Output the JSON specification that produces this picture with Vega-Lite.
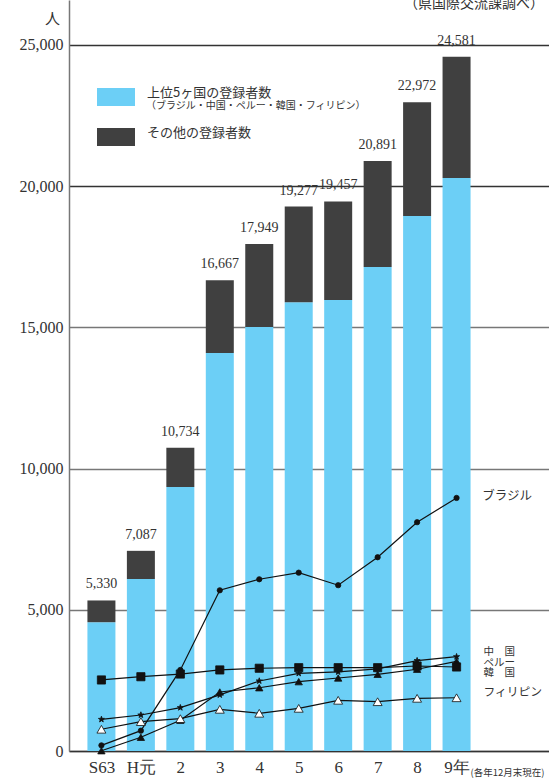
{
  "$schema": "https://vega.github.io/schema/vega-lite/v6.json",
  "width": 480,
  "height": 751,
  "autosize": {"type": "none"},
  "padding": {"left": 69, "top": 0, "right": 0, "bottom": 27},
  "background": "white",
  "config": {"view": {"stroke": null}, "font": "Noto Sans CJK JP"},
  "datasets": {
    "bars": [
      {"i": 0, "group": "上位5ヶ国の登録者数", "ord": 0, "value": 4560},
      {"i": 0, "group": "その他の登録者数", "ord": 1, "value": 770},
      {"i": 1, "group": "上位5ヶ国の登録者数", "ord": 0, "value": 6090},
      {"i": 1, "group": "その他の登録者数", "ord": 1, "value": 997},
      {"i": 2, "group": "上位5ヶ国の登録者数", "ord": 0, "value": 9350},
      {"i": 2, "group": "その他の登録者数", "ord": 1, "value": 1384},
      {"i": 3, "group": "上位5ヶ国の登録者数", "ord": 0, "value": 14090},
      {"i": 3, "group": "その他の登録者数", "ord": 1, "value": 2577},
      {"i": 4, "group": "上位5ヶ国の登録者数", "ord": 0, "value": 15010},
      {"i": 4, "group": "その他の登録者数", "ord": 1, "value": 2939},
      {"i": 5, "group": "上位5ヶ国の登録者数", "ord": 0, "value": 15890},
      {"i": 5, "group": "その他の登録者数", "ord": 1, "value": 3387},
      {"i": 6, "group": "上位5ヶ国の登録者数", "ord": 0, "value": 15965},
      {"i": 6, "group": "その他の登録者数", "ord": 1, "value": 3492},
      {"i": 7, "group": "上位5ヶ国の登録者数", "ord": 0, "value": 17135},
      {"i": 7, "group": "その他の登録者数", "ord": 1, "value": 3756},
      {"i": 8, "group": "上位5ヶ国の登録者数", "ord": 0, "value": 18940},
      {"i": 8, "group": "その他の登録者数", "ord": 1, "value": 4032},
      {"i": 9, "group": "上位5ヶ国の登録者数", "ord": 0, "value": 20285},
      {"i": 9, "group": "その他の登録者数", "ord": 1, "value": 4296}
    ],
    "totals": [
      {"i": 0, "total": 5330},
      {"i": 1, "total": 7087},
      {"i": 2, "total": 10734},
      {"i": 3, "total": 16667},
      {"i": 4, "total": 17949},
      {"i": 5, "total": 19277},
      {"i": 6, "total": 19457},
      {"i": 7, "total": 20891},
      {"i": 8, "total": 22972},
      {"i": 9, "total": 24581}
    ],
    "lines": [
      {"series": "ブラジル", "i": 0, "value": 200},
      {"series": "ブラジル", "i": 1, "value": 720},
      {"series": "ブラジル", "i": 2, "value": 2870},
      {"series": "ブラジル", "i": 3, "value": 5690},
      {"series": "ブラジル", "i": 4, "value": 6080},
      {"series": "ブラジル", "i": 5, "value": 6315},
      {"series": "ブラジル", "i": 6, "value": 5870},
      {"series": "ブラジル", "i": 7, "value": 6860},
      {"series": "ブラジル", "i": 8, "value": 8100},
      {"series": "ブラジル", "i": 9, "value": 8960},
      {"series": "中国", "i": 0, "value": 1120},
      {"series": "中国", "i": 1, "value": 1275},
      {"series": "中国", "i": 2, "value": 1535},
      {"series": "中国", "i": 3, "value": 1985},
      {"series": "中国", "i": 4, "value": 2480},
      {"series": "中国", "i": 5, "value": 2750},
      {"series": "中国", "i": 6, "value": 2800},
      {"series": "中国", "i": 7, "value": 2905},
      {"series": "中国", "i": 8, "value": 3200},
      {"series": "中国", "i": 9, "value": 3340},
      {"series": "ペルー", "i": 0, "value": 10},
      {"series": "ペルー", "i": 1, "value": 485},
      {"series": "ペルー", "i": 2, "value": 1090},
      {"series": "ペルー", "i": 3, "value": 2090},
      {"series": "ペルー", "i": 4, "value": 2240},
      {"series": "ペルー", "i": 5, "value": 2455},
      {"series": "ペルー", "i": 6, "value": 2585},
      {"series": "ペルー", "i": 7, "value": 2715},
      {"series": "ペルー", "i": 8, "value": 2895},
      {"series": "ペルー", "i": 9, "value": 3175},
      {"series": "韓国", "i": 0, "value": 2515},
      {"series": "韓国", "i": 1, "value": 2630},
      {"series": "韓国", "i": 2, "value": 2725},
      {"series": "韓国", "i": 3, "value": 2870},
      {"series": "韓国", "i": 4, "value": 2930},
      {"series": "韓国", "i": 5, "value": 2950},
      {"series": "韓国", "i": 6, "value": 2950},
      {"series": "韓国", "i": 7, "value": 2950},
      {"series": "韓国", "i": 8, "value": 3010},
      {"series": "韓国", "i": 9, "value": 2975},
      {"series": "フィリピン", "i": 0, "value": 770},
      {"series": "フィリピン", "i": 1, "value": 1040},
      {"series": "フィリピン", "i": 2, "value": 1145},
      {"series": "フィリピン", "i": 3, "value": 1475},
      {"series": "フィリピン", "i": 4, "value": 1335},
      {"series": "フィリピン", "i": 5, "value": 1510},
      {"series": "フィリピン", "i": 6, "value": 1795},
      {"series": "フィリピン", "i": 7, "value": 1745},
      {"series": "フィリピン", "i": 8, "value": 1865},
      {"series": "フィリピン", "i": 9, "value": 1885}
    ]
  },
  "layer": [
    {
      "data": {"name": "bars"},
      "mark": {"type": "bar", "width": 28},
      "encoding": {
        "x": {
          "field": "i", "type": "quantitative",
          "scale": {"domain": [-0.695, 11.216], "nice": false, "zero": false},
          "axis": {
            "values": [0, 1, 2, 3, 4, 5, 6, 7, 8, 9],
            "labelExpr": "['S63','H元','2','3','4','5','6','7','8','9年'][datum.value]",
            "grid": false, "ticks": false, "tickSize": 0,
            "labelPadding": 8, "labelFont": "Liberation Serif", "labelFontSize": 17, "labelColor": "#333",
            "domainColor": "#333", "domainWidth": 1.5,
            "title": "(各年12月末現在)", "titleX": 401, "titleY": 24, "titleAlign": "left", "titleBaseline": "alphabetic",
            "titleFontSize": 9.5, "titleFont": "Noto Sans CJK JP", "titleFontWeight": "normal", "titleColor": "#333"
          }
        },
        "y": {
          "field": "value", "type": "quantitative", "stack": "zero",
          "scale": {"domain": [0, 26590], "nice": false},
          "axis": {
            "values": [0, 5000, 10000, 15000, 20000, 25000],
            "labelExpr": "format(datum.value, ',')",
            "title": "人", "titleAngle": 0, "titleX": -17, "titleY": 18, "titleAlign": "center", "titleBaseline": "middle",
            "titleFontSize": 15, "titleFontWeight": "normal", "titleFont": "Noto Sans CJK JP", "titleColor": "#333",
            "grid": true,
            "gridColor": {"condition": {"test": "datum.value >= 20000", "value": "#333"}, "value": "#777"},
            "gridWidth": 1.3,
            "ticks": false, "tickSize": 0,
            "domainColor": "#777", "domainWidth": 1.5,
            "labelFont": "Liberation Serif", "labelFontSize": 16, "labelColor": "#333", "labelPadding": 6
          }
        },
        "color": {
          "field": "group", "type": "nominal",
          "scale": {"domain": ["上位5ヶ国の登録者数", "その他の登録者数"], "range": ["#6CCFF6", "#404040"]},
          "legend": {
            "title": null, "orient": "none", "legendX": 28, "legendY": 78,
            "symbolType": "M-1,-0.47H1V0.47H-1Z", "symbolSize": 1444, "symbolStrokeWidth": 0, "symbolOpacity": 1,
            "labelFont": "Noto Sans CJK JP", "labelFontSize": 13, "labelColor": "#333", "labelOffset": 12,
            "labelBaseline": "alphabetic",
            "rowPadding": 12, "labelLimit": 300
          }
        },
        "order": {"field": "ord", "type": "quantitative"}
      }
    },
    {
      "data": {"name": "totals"},
      "mark": {"type": "text", "baseline": "alphabetic", "dy": -12, "font": "Liberation Serif", "fontSize": 14, "color": "#333"},
      "encoding": {
        "x": {"field": "i", "type": "quantitative"},
        "y": {"field": "total", "type": "quantitative"},
        "text": {"field": "total", "type": "quantitative", "format": ","}
      }
    },
    {
      "data": {"name": "lines"},
      "mark": {"type": "line", "color": "#111", "strokeWidth": 1.2},
      "encoding": {
        "x": {"field": "i", "type": "quantitative"},
        "y": {"field": "value", "type": "quantitative"},
        "detail": {"field": "series", "type": "nominal"}
      }
    },
    {
      "data": {"name": "lines"},
      "mark": {"type": "point", "filled": true, "stroke": "#111", "strokeWidth": 0.8, "opacity": 1},
      "encoding": {
        "x": {"field": "i", "type": "quantitative"},
        "y": {"field": "value", "type": "quantitative"},
        "shape": {
          "field": "series", "type": "nominal",
          "scale": {
            "domain": ["ブラジル", "中国", "ペルー", "韓国", "フィリピン"],
            "range": ["circle", "M0,-1L0.235,-0.324L0.951,-0.309L0.38,0.124L0.588,0.809L0,0.4L-0.588,0.809L-0.38,0.124L-0.951,-0.309L-0.235,-0.324Z", "triangle-up", "square", "triangle-up"]
          },
          "legend": null
        },
        "fill": {
          "field": "series", "type": "nominal",
          "scale": {"domain": ["ブラジル", "中国", "ペルー", "韓国", "フィリピン"], "range": ["#111", "#111", "#111", "#111", "#ffffff"]},
          "legend": null
        },
        "size": {
          "field": "series", "type": "nominal",
          "scale": {"domain": ["ブラジル", "中国", "ペルー", "韓国", "フィリピン"], "range": [28, 80, 36, 64, 36]},
          "legend": null
        }
      }
    },
    {
      "data": {"values": [{}]},
      "mark": {"type": "text", "align": "right", "baseline": "alphabetic", "fontSize": 14, "font": "Noto Sans CJK JP", "color": "#333", "text": "（県国際交流課調べ）"},
      "encoding": {"x": {"datum": 11.216}, "y": {"datum": 26320}}
    },
    {
      "data": {"values": [{}]},
      "mark": {"type": "text", "align": "left", "baseline": "middle", "fontSize": 10, "font": "Noto Sans CJK JP", "color": "#333", "text": "（ブラジル・中国・ペルー・韓国・フィリピン）"},
      "encoding": {"x": {"datum": 1.13}, "y": {"datum": 22850}}
    },
    {
      "data": {"values": [{}]},
      "mark": {"type": "text", "align": "left", "baseline": "middle", "fontSize": 12.5, "font": "Noto Sans CJK JP", "color": "#333", "text": "ブラジル"},
      "encoding": {"x": {"datum": 9.65}, "y": {"datum": 9040}}
    },
    {
      "data": {"values": [{}]},
      "mark": {"type": "text", "align": "left", "baseline": "middle", "fontSize": 10.5, "font": "Noto Sans CJK JP", "color": "#333", "text": "中　国"},
      "encoding": {"x": {"datum": 9.68}, "y": {"datum": 3510}}
    },
    {
      "data": {"values": [{}]},
      "mark": {"type": "text", "align": "left", "baseline": "middle", "fontSize": 10.5, "font": "Noto Sans CJK JP", "color": "#333", "text": "ペルー"},
      "encoding": {"x": {"datum": 9.68}, "y": {"datum": 3130}}
    },
    {
      "data": {"values": [{}]},
      "mark": {"type": "text", "align": "left", "baseline": "middle", "fontSize": 10.5, "font": "Noto Sans CJK JP", "color": "#333", "text": "韓　国"},
      "encoding": {"x": {"datum": 9.68}, "y": {"datum": 2750}}
    },
    {
      "data": {"values": [{}]},
      "mark": {"type": "text", "align": "left", "baseline": "middle", "fontSize": 11.8, "font": "Noto Sans CJK JP", "color": "#333", "text": "フィリピン"},
      "encoding": {"x": {"datum": 9.68}, "y": {"datum": 2100}}
    }
  ]
}
